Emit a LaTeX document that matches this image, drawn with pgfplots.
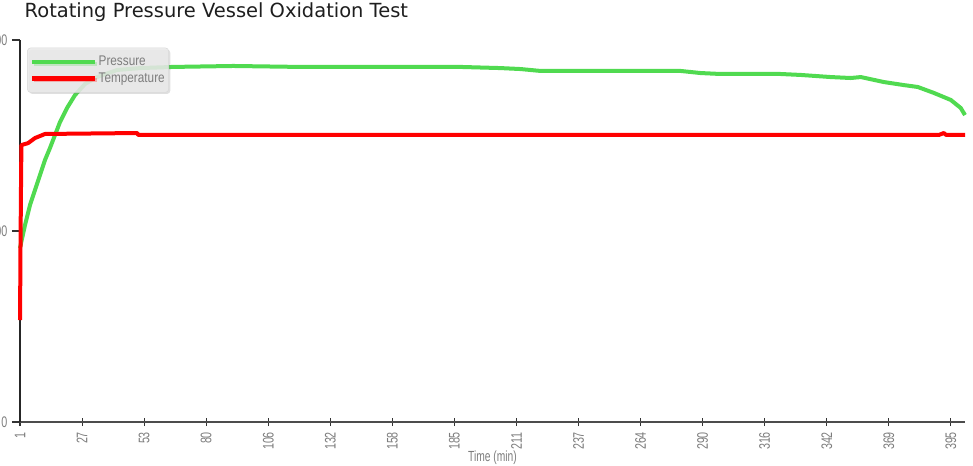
\documentclass[border=0pt]{standalone}
\usepackage{pgfplots}
\pgfplotsset{compat=1.18}
\usepackage{fontspec}
\setmainfont{DejaVu Sans}
\newfontfamily\condfont[FakeStretch=0.7]{Liberation Sans}
\newfontfamily\legfont[FakeStretch=0.84]{Liberation Sans}
\usetikzlibrary{shadows}
\definecolor{pgreen}{RGB}{80,218,80}
\definecolor{tred}{RGB}{255,0,0}
\definecolor{lblgray}{RGB}{125,125,125}
\definecolor{titlegray}{RGB}{30,30,30}
\definecolor{leggray}{RGB}{234,234,234}

\pgfplotstableread{
t y
1.0 91.1
3.12 103.1
5.24 113.6
7.35 121.5
9.47 129.3
11.59 137.2
13.71 143.5
15.83 150.3
17.95 157.1
20.91 164.4
24.30 171.2
28.54 177.0
33.62 180.6
42.09 184.3
51.84 185.3
65.82 185.9
91.24 186.4
119.6 185.9
162.0 185.9
187.4 185.9
204.4 185.3
212.8 184.8
221.3 183.8
246.7 183.8
280.6 183.8
289.1 182.7
297.6 182.2
323.0 182.2
331.5 181.7
344.2 180.6
352.6 180.1
356.9 180.6
366.6 178.0
375.1 176.4
381.0 175.4
387.8 172.3
395.0 168.6
399.2 164.4
401.0 160.7
}\pressure

\pgfplotstableread{
t y
1.0 53.4
1.1 70.0
1.2 90.0
1.4 120.0
1.6 145.0
4.4 146.0
7.4 148.7
11.6 150.8
50.6 151.3
51.0 150.3
200.0 150.3
390.0 150.3
392.0 151.3
393.0 150.3
401.0 150.3
}\temperature

\begin{document}
\begin{tikzpicture}
\begin{axis}[
  at={(0pt,0pt)}, anchor=south west,
  scale only axis, width=708.75pt, height=286.5pt,
  xmin=1, xmax=401, ymin=0, ymax=200,
  axis x line*=bottom, axis y line*=left,
  x axis line style={-, draw=black!70, line width=1.3pt},
  y axis line style={-, draw=black!85, line width=0.9pt},
  xtick={1,27.2667,53.5333,79.8,106.0667,132.3333,158.6,184.8667,211.1333,237.4,263.6667,289.9333,316.2,342.4667,368.7333,395},
  xticklabels={1,27,53,80,106,132,158,185,211,237,264,290,316,342,369,395},
  minor xtick={2,3,...,400},
  ytick={0,100,200}, yticklabels={0,100,200},
  xtick align=center, ytick align=outside,
  major tick length=6pt, minor tick length=1.5pt,
  tick style={black!80, line width=0.8pt},
  minor tick style={black!35, line width=0.4pt},
  xticklabel style={rotate=90, anchor=east, font=\condfont\fontsize{11.5}{13}\selectfont, text=lblgray, xshift=-1pt},
  yticklabel style={font=\condfont\fontsize{11.5}{13}\selectfont, text=lblgray},
  xlabel={Time (min)},
  xlabel style={at={(axis description cs:0.5,0)}, anchor=center, yshift=-26.5pt, font=\condfont\fontsize{11}{13}\selectfont, text=lblgray},
  title={Rotating Pressure Vessel Oxidation Test},
  title style={at={(axis description cs:0,1)}, anchor=base west, yshift=11pt, font=\fontsize{14.6}{17}\selectfont, text=titlegray},
  legend style={at={(axis description cs:0.0075,0.98)}, anchor=north west,
    fill=leggray, fill opacity=0.85, text opacity=1, draw=black!15, rounded corners=2.5pt,
    drop shadow={opacity=0.25, shadow xshift=1.2pt, shadow yshift=-1.2pt},
    font=\legfont\fontsize{10.5}{12}\selectfont, text=lblgray,
    inner xsep=2pt, inner ysep=5.2pt, row sep=1.5pt,
    nodes={inner sep=1pt}},
  legend cell align=left,
  legend image code/.code={\draw[#1, line width=3.5pt] (0pt,0pt) -- (47pt,0pt);},
  clip=false,
]
\addplot[pgreen, line width=3pt, line join=round] table[x=t,y=y] {\pressure};
\addlegendentry{Pressure}
\addplot[tred, line width=3pt, line join=round] table[x=t,y=y] {\temperature};
\addlegendentry{Temperature}
\end{axis}
\pgfresetboundingbox
\path[use as bounding box] (-15pt,-32.25pt) rectangle (714.75pt,316.5pt);
\end{tikzpicture}
\end{document}
